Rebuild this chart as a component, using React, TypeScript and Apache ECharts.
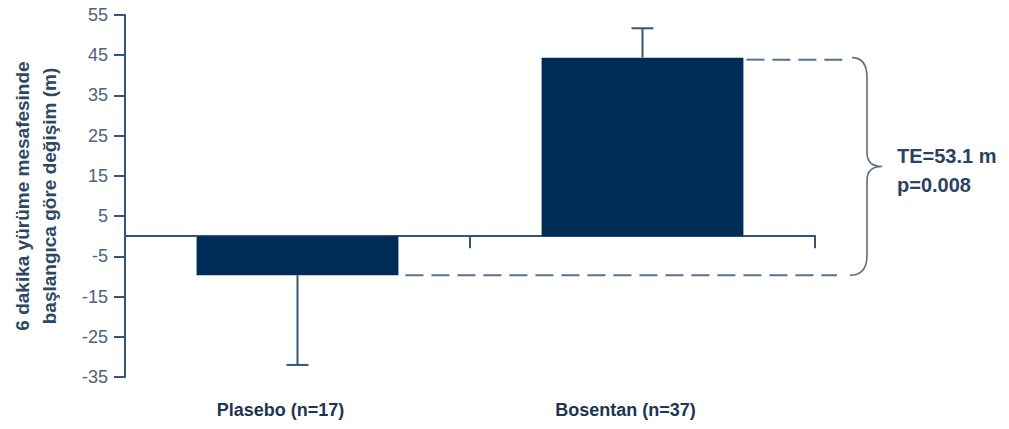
import React, { useEffect, useRef } from "react";
import * as echarts from "echarts";

// Change in 6-minute walk distance from baseline, per treatment arm
const categories = ["Plasebo (n=17)", "Bosentan (n=37)"];
const meanChange = [-9.7, 44.4];
const errorLimit = [-32.0, 51.7];
const yTitleLines = ["6 dakika yürüme mesafesinde", "başlangıca göre değişim (m)"];
const effectLines = ["TE=53.1 m", "p=0.008"];

const Y_MIN = -35;
const Y_MAX = 55;
const Y_STEP = 10;

const BAR_WIDTH_RATIO = 0.585;
const FONT = '"Liberation Sans", Arial, sans-serif';
const AXIS_COLOR = "#34547a";
const BAR_COLOR = "#002d57";
const DASH_COLOR = "#56708f";
const BRACE_COLOR = "#5f6e80";

export default function App() {
  const ref = useRef<HTMLDivElement>(null);

  useEffect(() => {
    if (!ref.current) return;
    const chart = echarts.init(ref.current, undefined, { renderer: "svg" });

    const errorData = categories.map((_, i) => [i, meanChange[i], errorLimit[i]]);
    const bracketData = [[1, meanChange[1], meanChange[0]]];

    const option: any = {
      animation: false,
      backgroundColor: "#ffffff",
      textStyle: { fontFamily: FONT },
      grid: { left: 125, right: 194, top: 15, bottom: 52, containLabel: false },
      xAxis: [
        {
          type: "category",
          data: categories,
          boundaryGap: true,
          axisLine: { onZero: true, lineStyle: { color: AXIS_COLOR, width: 2 } },
          axisTick: { show: true, length: 12, interval: 0, lineStyle: { color: AXIS_COLOR, width: 2 } },
          axisLabel: { show: false },
          splitLine: { show: false },
        },
        {
          type: "category",
          data: categories,
          position: "bottom",
          axisLine: { show: false, onZero: false },
          axisTick: { show: false },
          axisLabel: {
            margin: 24,
            interval: 0,
            fontSize: 18,
            fontWeight: "bold",
            color: "#1d3553",
            fontFamily: FONT,
            padding: [0, 34, 0, 0],
          },
          splitLine: { show: false },
        },
      ],
      yAxis: {
        type: "value",
        min: Y_MIN,
        max: Y_MAX,
        interval: Y_STEP,
        name: yTitleLines.join("\n"),
        nameLocation: "middle",
        nameRotate: 90,
        nameGap: 62,
        nameTextStyle: {
          fontSize: 19,
          fontWeight: "bold",
          color: "#2e4864",
          lineHeight: 27,
          fontFamily: FONT,
          align: "center",
        },
        axisLine: { show: true, lineStyle: { color: AXIS_COLOR, width: 2 } },
        axisTick: { show: true, length: 11, lineStyle: { color: AXIS_COLOR, width: 2 } },
        axisLabel: { fontSize: 18, color: "#4d627b", margin: 17, fontFamily: FONT },
        splitLine: { show: false },
      },
      series: [
        {
          type: "bar",
          xAxisIndex: 0,
          data: meanChange,
          barWidth: `${BAR_WIDTH_RATIO * 100}%`,
          itemStyle: { color: BAR_COLOR },
          z: 2,
        },
        {
          type: "custom",
          xAxisIndex: 0,
          data: errorData,
          encode: { x: 0, y: [1, 2] },
          clip: false,
          z: 3,
          renderItem: (_params: any, api: any) => {
            const start = api.coord([api.value(0), api.value(1)]);
            const end = api.coord([api.value(0), api.value(2)]);
            const capHalf = 11;
            const style = { stroke: AXIS_COLOR, lineWidth: 2 };
            return {
              type: "group",
              children: [
                { type: "line", shape: { x1: start[0], y1: start[1], x2: end[0], y2: end[1] }, style },
                { type: "line", shape: { x1: end[0] - capHalf, y1: end[1], x2: end[0] + capHalf, y2: end[1] }, style },
              ],
            };
          },
        },
        {
          type: "custom",
          xAxisIndex: 0,
          data: bracketData,
          encode: { x: 0, y: [1, 2] },
          clip: false,
          z: 3,
          renderItem: (params: any, api: any) => {
            const halfBar = (api.size([1, 0])[0] * BAR_WIDTH_RATIO) / 2;
            const topCenter = api.coord([api.value(0), api.value(1)]);
            const lowCenter = api.coord([0, api.value(2)]);
            const gridRight = params.coordSys.x + params.coordSys.width;
            const yTop = topCenter[1];
            const yLow = lowCenter[1];
            const yMid = (yTop + yLow) / 2;

            const x0 = gridRight + 37;
            const xb = gridRight + 52;
            const xt = gridRight + 67;
            const dash = { stroke: DASH_COLOR, lineWidth: 2, lineDash: [18, 8] };

            const brace =
              `M ${x0} ${yTop} Q ${xb} ${yTop} ${xb} ${yTop + 20} ` +
              `L ${xb} ${yMid - 14} Q ${xb} ${yMid} ${xt} ${yMid} ` +
              `Q ${xb} ${yMid} ${xb} ${yMid + 14} ` +
              `L ${xb} ${yLow - 20} Q ${xb} ${yLow} ${x0 - 2} ${yLow}`;

            const textX = gridRight + 82;
            const textStyle = {
              fill: "#2b4260",
              font: `bold 20px ${FONT}`,
              align: "left",
              verticalAlign: "middle",
            };

            return {
              type: "group",
              children: [
                {
                  type: "line",
                  shape: { x1: topCenter[0] + halfBar + 3, y1: yTop + 2, x2: x0 - 2, y2: yTop + 2 },
                  style: dash,
                },
                {
                  type: "line",
                  shape: { x1: lowCenter[0] + halfBar + 7, y1: yLow, x2: gridRight + 22, y2: yLow },
                  style: dash,
                },
                {
                  type: "path",
                  shape: { pathData: brace },
                  style: { fill: "none", stroke: BRACE_COLOR, lineWidth: 1.6 },
                },
                { type: "text", style: { ...textStyle, text: effectLines[0], x: textX, y: yMid - 10 } },
                { type: "text", style: { ...textStyle, text: effectLines[1], x: textX, y: yMid + 19 } },
              ],
            };
          },
        },
      ],
    };

    chart.setOption(option);
    return () => chart.dispose();
  }, []);

  return (
    <div
      ref={ref}
      style={{ position: "fixed", left: 0, top: 0, width: 1009, height: 429, background: "#fff" }}
    />
  );
}
